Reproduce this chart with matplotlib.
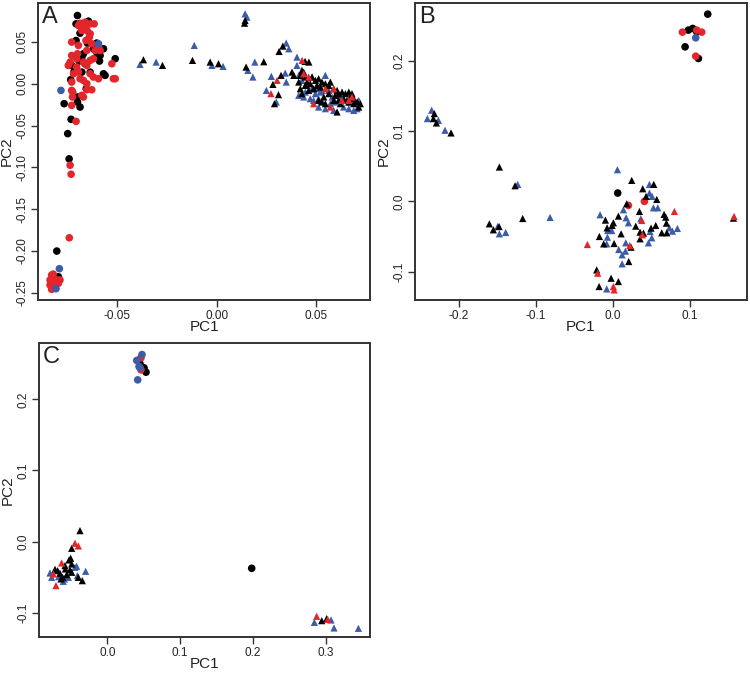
import matplotlib
matplotlib.use("Agg")
import matplotlib.pyplot as plt
from matplotlib.ticker import FixedLocator, FormatStrFormatter

plt.rcParams['font.family'] = ['Liberation Sans', 'DejaVu Sans']
plt.rcParams['axes.unicode_minus'] = False

RED = '#e3262b'
BLUE = '#3d5ca8'
BLACK = '#000000'

# ---------------- Panel A ----------------
a_circ_black = [(-0.0701, 0.0816), (-0.0708, 0.0716), (-0.0646, 0.0748), (-0.0688, 0.0605), (-0.0708, 0.0517),
                (-0.0651, 0.0486), (-0.0604, 0.0486), (-0.0570, 0.0418), (-0.0587, 0.0338), (-0.0671, 0.0358),
                (-0.0679, 0.0318), (-0.0693, 0.0271), (-0.0730, 0.0219), (-0.0718, 0.0147), (-0.0735, 0.0048),
                (-0.0679, 0.0139), (-0.0637, 0.0139), (-0.0570, 0.0119), (-0.0562, 0.0100), (-0.0511, 0.0299),
                (-0.0657, -0.0060), (-0.0701, -0.0159), (-0.0701, -0.0219), (-0.0688, -0.0279), (-0.0768, -0.0239),
                (-0.0733, -0.0426), (-0.0750, -0.0597), (-0.0743, -0.0899), (-0.0805, -0.2002), (-0.0797, -0.2309),
                (-0.0663, 0.0239), (-0.0621, 0.0418), (-0.0601, 0.0358), (-0.0590, 0.0271)]
a_circ_red = [(-0.0688, 0.0724), (-0.0663, 0.0736), (-0.0637, 0.0716), (-0.0617, 0.0716), (-0.0675, 0.0677),
              (-0.0679, 0.0637), (-0.0658, 0.0657), (-0.0637, 0.0597), (-0.0730, 0.0498), (-0.0696, 0.0458),
              (-0.0641, 0.0557), (-0.0658, 0.0517), (-0.0629, 0.0478), (-0.0595, 0.0438), (-0.0612, 0.0398),
              (-0.0654, 0.0398), (-0.0701, 0.0358), (-0.0730, 0.0338), (-0.0705, 0.0299), (-0.0637, 0.0279),
              (-0.0671, 0.0259), (-0.0621, 0.0299), (-0.0587, 0.0398), (-0.0738, 0.0259), (-0.0747, 0.0219),
              (-0.0705, 0.0199), (-0.0721, 0.0119), (-0.0696, 0.0139), (-0.0654, 0.0219), (-0.0637, 0.0119),
              (-0.0688, 0.0060), (-0.0730, 0.0020), (-0.0671, 0.0040), (-0.0654, 0.0000), (-0.0595, 0.0060),
              (-0.0621, 0.0080), (-0.0528, 0.0239), (-0.0520, 0.0060), (-0.0511, 0.0060), (-0.0654, -0.0072),
              (-0.0629, -0.0072), (-0.0679, -0.0139), (-0.0671, -0.0159), (-0.0730, -0.0080), (-0.0725, -0.0100),
              (-0.0726, -0.0159), (-0.0730, -0.0259), (-0.0708, -0.0450), (-0.0738, -0.0975), (-0.0733, -0.1083),
              (-0.0742, -0.1843), (-0.0831, -0.2289), (-0.0823, -0.2277), (-0.0839, -0.2348), (-0.0805, -0.2348),
              (-0.0797, -0.2356), (-0.0823, -0.2408), (-0.0839, -0.2408), (-0.0814, -0.2436), (-0.0831, -0.2460),
              (-0.0823, -0.2328), (-0.0789, -0.2348), (-0.0797, -0.2388), (-0.0696, 0.0696), (-0.0651, 0.0629)]
a_circ_blue = [(-0.0784, -0.0080), (-0.0792, -0.2213), (-0.0809, -0.2452), (-0.0595, 0.0478)]

a_tri_black = [(-0.0369, 0.0287), (-0.0273, 0.0219), (-0.0122, 0.0279), (-0.0033, 0.0259), (0.0009, 0.0239),
               (0.0148, 0.0199), (0.0143, 0.0756), (0.0140, 0.0724), (0.0237, 0.0263), (0.0314, 0.0386),
               (0.0333, 0.0450), (0.0445, 0.0267), (0.0464, 0.0259), (0.0283, -0.0008), (0.0311, -0.0131),
               (0.0291, -0.0239), (0.0324, 0.0100), (0.0379, 0.0139), (0.0388, 0.0100),
               (0.0429, 0.0159), (0.0421, 0.0100), (0.0438, 0.0139), (0.0446, 0.0080), (0.0455, 0.0020),
               (0.0480, 0.0080), (0.0497, 0.0040), (0.0513, 0.0060), (0.0530, 0.0020), (0.0522, -0.0040),
               (0.0547, 0.0000), (0.0564, -0.0020), (0.0572, 0.0020), (0.0589, -0.0060), (0.0606, -0.0080),
               (0.0614, -0.0119), (0.0631, -0.0100), (0.0648, -0.0119), (0.0665, -0.0100), (0.0673, -0.0159),
               (0.0690, -0.0179), (0.0707, -0.0219), (0.0723, -0.0239), (0.0715, -0.0279), (0.0589, -0.0199),
               (0.0614, -0.0199), (0.0547, -0.0239), (0.0530, -0.0219), (0.0597, -0.0139), (0.0639, -0.0179),
               (0.0656, -0.0199), (0.0606, -0.0338), (0.0539, -0.0159), (0.0488, -0.0060), (0.0463, -0.0080),
               (0.0429, -0.0119), (0.0421, -0.0060), (0.0690, -0.0239), (0.0665, -0.0219), (0.0505, -0.0020),
               (0.0564, -0.0119), (0.0681, -0.0119), (0.0623, -0.0239), (0.0446, -0.0020), (0.0413, 0.0020),
               (0.0471, 0.0000), (0.0513, -0.0199)]
a_tri_blue = [(-0.0386, 0.0231), (-0.0305, 0.0259), (-0.0113, 0.0458), (-0.0024, 0.0219), (0.0032, 0.0207),
              (0.0143, 0.0836), (0.0152, 0.0796), (0.0157, 0.0159), (0.0182, 0.0080), (0.0192, 0.0259),
              (0.0350, 0.0486), (0.0363, 0.0418), (0.0404, 0.0318), (0.0275, 0.0088), (0.0250, -0.0080),
              (0.0300, -0.0219), (0.0350, 0.0020), (0.0345, 0.0127),
              (0.0404, 0.0219), (0.0413, 0.0100), (0.0429, 0.0040), (0.0455, -0.0020), (0.0480, -0.0060),
              (0.0505, -0.0060), (0.0522, -0.0100), (0.0497, -0.0119), (0.0446, -0.0100), (0.0413, -0.0139),
              (0.0471, -0.0179), (0.0513, -0.0179), (0.0547, 0.0100), (0.0564, -0.0080), (0.0581, -0.0159),
              (0.0597, -0.0219), (0.0639, -0.0279), (0.0665, -0.0299), (0.0690, -0.0319), (0.0715, -0.0199),
              (0.0707, -0.0299), (0.0589, -0.0319), (0.0547, -0.0299), (0.0513, -0.0279), (0.0488, -0.0199),
              (0.0623, -0.0159), (0.0673, -0.0219), (0.0572, -0.0239), (0.0530, -0.0080), (0.0438, -0.0159),
              (0.0480, 0.0080)]
a_tri_red = [(0.0430, 0.0279), (0.0304, 0.0040), (0.0273, -0.0119), (0.0463, 0.0080), (0.0438, 0.0119),
             (0.0488, -0.0239), (0.0572, -0.0279), (0.0589, -0.0060), (0.0665, -0.0199), (0.0681, -0.0159),
             (0.0547, -0.0060), (0.0631, -0.0199)]

a_xticks = [-0.05, 0.00, 0.05]
a_yticks = [-0.25, -0.20, -0.15, -0.10, -0.05, 0.00, 0.05]

# ---------------- Panel B ----------------
b_circ_black = [(0.1234, 0.2663), (0.0983, 0.2436), (0.1039, 0.2459), (0.1091, 0.2412), (0.0940, 0.2198),
                (0.1113, 0.2032), (0.0065, 0.0118)]
b_circ_red = [(0.0905, 0.2407), (0.1091, 0.2436), (0.1156, 0.2407), (0.1078, 0.2065), (0.0412, -0.0001),
              (0.0204, -0.0058)]
b_circ_blue = [(0.1078, 0.2326)]

b_tri_black = [(-0.2316, 0.1248), (-0.2329, 0.1177), (-0.2290, 0.1115), (-0.2100, 0.0973), (-0.1472, 0.0488),
               (-0.1268, 0.0222), (-0.1169, -0.0244), (-0.1602, -0.0320), (-0.1550, -0.0405), (-0.1476, -0.0358),
               (0.0247, 0.0298), (0.0390, 0.0179), (0.0533, 0.0241), (0.0433, 0.0070), (0.0572, 0.0027),
               (0.0182, -0.0035), (0.0347, -0.0144), (0.1568, -0.0239), (-0.0095, -0.0267), (0.0074, -0.0210),
               (0.0009, -0.0305), (-0.0008, -0.0343), (0.0667, -0.0186), (0.0689, -0.0225), (0.0299, -0.0353),
               (-0.0073, -0.0377), (0.0498, -0.0381), (0.0559, -0.0343), (0.0355, -0.0438), (0.0399, -0.0452),
               (0.0697, -0.0310), (0.0637, -0.0448), (0.0702, -0.0448), (-0.0173, -0.0500), (0.0109, -0.0462),
               (0.0355, -0.0533), (-0.0117, -0.0605), (0.0018, -0.0600), (0.0238, -0.0652), (0.0208, -0.0856),
               (-0.0208, -0.0975), (-0.0021, -0.1094), (0.0074, -0.1141), (-0.0177, -0.1212)]
b_tri_blue = [(-0.2407, 0.1177), (-0.2351, 0.1296), (-0.2264, 0.1153), (-0.2178, 0.1011), (-0.1234, 0.0241),
              (-0.0814, -0.0229), (-0.1494, -0.0358), (-0.1472, -0.0462), (-0.1390, -0.0443),
              (0.0061, 0.0450), (0.0477, 0.0241), (0.0477, 0.0118), (0.0511, 0.0070), (0.0139, -0.0120),
              (0.0529, -0.0092), (0.0585, -0.0092), (-0.0164, -0.0191), (0.0174, -0.0234), (0.0204, -0.0305),
              (0.0364, -0.0248), (-0.0065, -0.0415), (-0.0013, -0.0415), (0.0485, -0.0429), (0.0736, -0.0377),
              (0.0775, -0.0424), (0.0840, -0.0386), (-0.0069, -0.0510), (0.0507, -0.0519), (0.0464, -0.0590),
              (-0.0078, -0.0605), (0.0169, -0.0590), (0.0078, -0.0685), (0.0165, -0.0709), (0.0122, -0.0761),
              (0.0122, -0.0889), (-0.0078, -0.1246)]
b_tri_red = [(0.0801, -0.0144), (0.1576, -0.0215), (0.0377, -0.0272), (0.0386, -0.0476), (0.0221, -0.0628),
             (-0.0329, -0.0614), (-0.0195, -0.1022), (0.0009, -0.1212), (0.0018, -0.1260)]

b_xticks = [-0.2, -0.1, 0.0, 0.1]
b_yticks = [-0.1, 0.0, 0.1, 0.2]

# ---------------- Panel C ----------------
c_circ_black = [(0.0436, 0.2555), (0.0450, 0.2499), (0.0505, 0.2443), (0.0532, 0.2382), (0.1984, -0.0376)]
c_circ_red = [(0.0463, 0.2583), (0.0463, 0.2415)]
c_circ_blue = [(0.0477, 0.2630), (0.0404, 0.2546), (0.0436, 0.2461), (0.0418, 0.2274), (0.0450, 0.2443)]

c_tri_black = [(-0.0375, 0.0154), (-0.0489, -0.0095), (-0.0503, -0.0235), (-0.0526, -0.0259), (-0.0489, -0.0315),
               (-0.0581, -0.0338), (-0.0576, -0.0385), (-0.0682, -0.0409), (-0.0718, -0.0390), (-0.0650, -0.0446),
               (-0.0613, -0.0503), (-0.0558, -0.0465), (-0.0512, -0.0399), (-0.0398, -0.0503), (-0.0343, -0.0550),
               (-0.0489, -0.0432), (-0.0636, -0.0526), (0.2946, -0.1112), (0.3014, -0.1084)]
c_tri_blue = [(-0.0444, -0.0362), (-0.0421, -0.0348), (-0.0787, -0.0442), (-0.0764, -0.0503), (-0.0590, -0.0526),
              (-0.0535, -0.0503), (-0.0411, -0.0479), (-0.0297, -0.0418), (-0.0668, -0.0493), (-0.0604, -0.0559),
              (0.2845, -0.1136), (0.3074, -0.1103), (0.3115, -0.1215), (0.3450, -0.1220)]
c_tri_red = [(-0.0444, -0.0024), (-0.0398, -0.0062), (-0.0627, -0.0301), (-0.0741, -0.0456), (-0.0705, -0.0620),
             (0.2877, -0.1051), (0.3028, -0.1094)]

c_xticks = [0.0, 0.1, 0.2, 0.3]
c_yticks = [-0.1, 0.0, 0.1, 0.2]

fig = plt.figure(figsize=(7.5, 6.75), dpi=100)

axA = fig.add_axes([0.0511, 0.5556, 0.4423, 0.44])
axB = fig.add_axes([0.5533, 0.5556, 0.4423, 0.44])
axC = fig.add_axes([0.0520, 0.0563, 0.4413, 0.4351])

CS = 30  # circle size
TS = 27  # triangle size


def draw(ax, circ_black, circ_red, circ_blue, tri_black, tri_blue, tri_red):
    for pts, col in ((circ_black, BLACK), (circ_red, RED), (circ_blue, BLUE)):
        if pts:
            ax.scatter([p[0] for p in pts], [p[1] for p in pts], s=CS, marker='o', c=col,
                       edgecolors='none', zorder=3)
    for pts, col in ((tri_blue, BLUE), (tri_black, BLACK), (tri_red, RED)):
        if pts:
            ax.scatter([p[0] for p in pts], [p[1] for p in pts], s=TS, marker='^', c=col,
                       edgecolors='none', zorder=3)


def style(ax, letter, xlim, ylim, xticks, yticks, xfmt, yfmt):
    ax.set_xlim(*xlim)
    ax.set_ylim(*ylim)
    ax.xaxis.set_major_locator(FixedLocator(xticks))
    ax.yaxis.set_major_locator(FixedLocator(yticks))
    ax.xaxis.set_major_formatter(FormatStrFormatter(xfmt))
    ax.yaxis.set_major_formatter(FormatStrFormatter(yfmt))
    for sp in ax.spines.values():
        sp.set_linewidth(1.4)
        sp.set_color('#333333')
    ax.tick_params(direction='out', length=5, width=1.0, color='#333333',
                   labelsize=8.5, labelcolor='#222222', pad=2)
    for lab in ax.get_yticklabels():
        lab.set_rotation(90)
        lab.set_va('center')
    ax.set_xlabel('PC1', fontsize=11, labelpad=-1, color='#222222')
    ax.set_ylabel('PC2', fontsize=11, labelpad=2, color='#222222')
    ax.text(0.012, 0.99, letter, transform=ax.transAxes, ha='left', va='top',
            fontsize=17, color='#222222')


draw(axA, a_circ_black, a_circ_red, a_circ_blue, a_tri_black, a_tri_blue, a_tri_red)
style(axA, 'A', (-0.0898, 0.0772), (-0.2587, 0.0966), a_xticks, a_yticks, '%.2f', '%.2f')

draw(axB, b_circ_black, b_circ_red, b_circ_blue, b_tri_black, b_tri_blue, b_tri_red)
style(axB, 'B', (-0.2568, 0.174), (-0.1403, 0.2822), b_xticks, b_yticks, '%.1f', '%.1f')

draw(axC, c_circ_black, c_circ_red, c_circ_blue, c_tri_black, c_tri_blue, c_tri_red)
style(axC, 'C', (-0.0938, 0.3609), (-0.1342, 0.2788), c_xticks, c_yticks, '%.1f', '%.1f')

fig.savefig('out.png', dpi=100)
